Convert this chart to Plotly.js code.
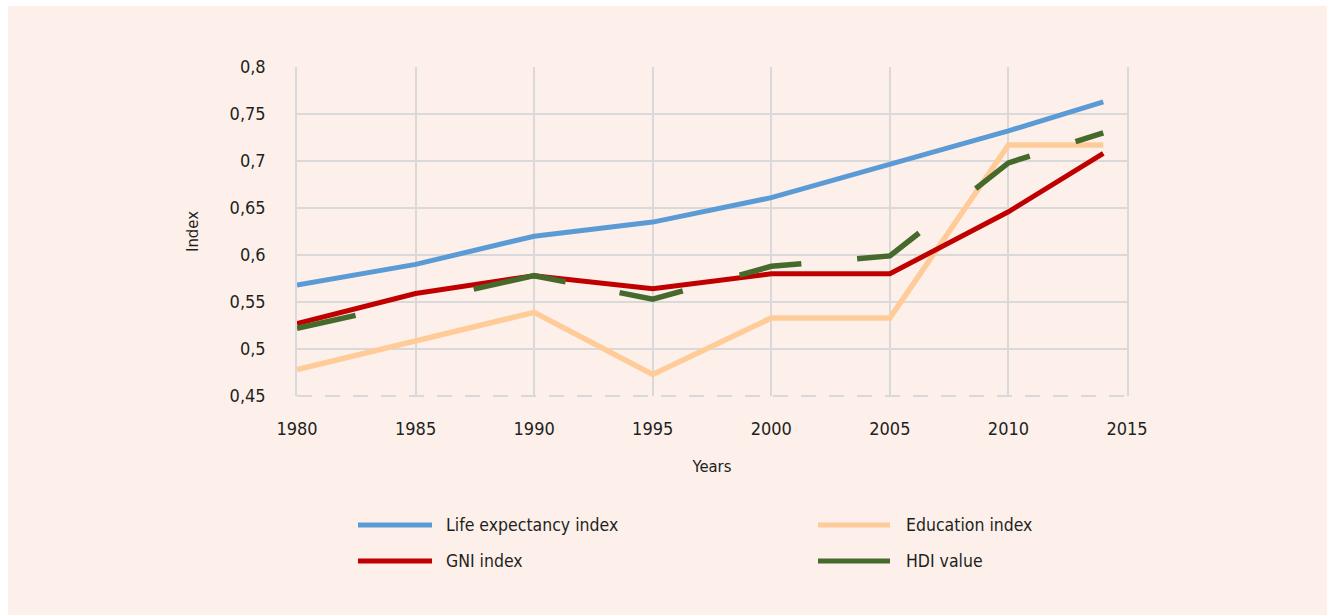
<!DOCTYPE html>
<html>
<head>
<meta charset="utf-8">
<script src="https://cdn.plot.ly/plotly-3.0.1.min.js"></script>
<style>
  html, body { margin: 0; padding: 0; background: #ffffff; width: 1327px; height: 615px; overflow: hidden; }
  #chart { position: absolute; left: 8px; top: 6px; width: 1319px; height: 609px; }
</style>
</head>
<body>
<div id="chart"></div>
<script>
// ---- data ----
const years = [1980, 1985, 1990, 1995, 2000, 2005, 2010, 2014];
const lifeExpectancy = [0.568, 0.590, 0.620, 0.635, 0.661, 0.696, 0.732, 0.763];
const education = [0.478, 0.509, 0.539, 0.473, 0.533, 0.533, 0.717, 0.717];
const gni = [0.527, 0.559, 0.578, 0.564, 0.580, 0.580, 0.646, 0.708];
const hdi = [0.522, 0.550, 0.578, 0.553, 0.588, 0.599, 0.698, 0.730];

const seriesNames = ["Life expectancy index", "Education index", "GNI index", "HDI value"];
const xTickVals = [1980, 1985, 1990, 1995, 2000, 2005, 2010, 2015];
const xTickText = ["1980", "1985", "1990", "1995", "2000", "2005", "2010", "2015"];
const yTickVals = [0.45, 0.5, 0.55, 0.6, 0.65, 0.7, 0.75, 0.8];
const yTickText = ["0,45", "0,5", "0,55", "0,6", "0,65", "0,7", "0,75", "0,8"];

// ---- styles ----
const FONT = "'Liberation Sans Narrow', 'DejaVu Sans Condensed', 'Roboto Condensed', 'Liberation Sans', sans-serif";
const TXT = "#231f20";
const GRID = "#d9d9d9";
const BG = "#fdf0eb";
const colors = {
  life: "#5b9bd5",
  edu: "#ffcc99",
  gni: "#c00000",
  hdi: "#466a2b"
};

const traces = [
  { x: years, y: education, name: seriesNames[1], mode: "lines",
    line: { color: colors.edu, width: 5.5 } },
  { x: years, y: lifeExpectancy, name: seriesNames[0], mode: "lines",
    line: { color: colors.life, width: 5 } },
  { x: years, y: gni, name: seriesNames[2], mode: "lines",
    line: { color: colors.gni, width: 5 } },
  { x: years, y: hdi, name: seriesNames[3], mode: "lines",
    line: { color: colors.hdi, width: 5.5,
      dash: "60px,121px,94px,55px,65px,59px,63px,56px,70px,72px,64px,48px,40px" } }
];

// manual legend (2 x 2 grid) in paper coordinates
const plotL = 297, plotR = 1127, plotT = 67, plotB = 396;
const px = v => (v - plotL) / (plotR - plotL);
const py = v => (plotB - v) / (plotB - plotT);
const legendItems = [
  { name: seriesNames[0], color: colors.life, x0: 358, x1: 432, tx: 444, y: 525 },
  { name: seriesNames[1], color: colors.edu,  x0: 818, x1: 890, tx: 904, y: 525 },
  { name: seriesNames[2], color: colors.gni,  x0: 358, x1: 432, tx: 444, y: 561 },
  { name: seriesNames[3], color: colors.hdi,  x0: 818, x1: 890, tx: 904, y: 561 }
];

const shapes = [
  // cover solid bottom gridline and draw dashed baseline (paper refs: not clipped)
  { type: "line", xref: "paper", yref: "paper", x0: 0.002, x1: 0.998, y0: 0, y1: 0,
    line: { color: BG, width: 3 }, layer: "below" },
  { type: "line", xref: "paper", yref: "paper", x0: 0, x1: 1, y0: 0, y1: 0,
    line: { color: GRID, width: 2, dash: "15px,13px" }, layer: "below" }
];
const annotations = [];
legendItems.forEach(it => {
  shapes.push({ type: "line", xref: "paper", yref: "paper",
    x0: px(it.x0), x1: px(it.x1), y0: py(it.y), y1: py(it.y),
    line: { color: it.color, width: 5 } });
  annotations.push({ xref: "paper", yref: "paper", x: px(it.tx), y: py(it.y),
    xanchor: "left", yanchor: "middle", showarrow: false, text: it.name,
    font: { family: FONT, size: 17.5, color: TXT } });
});

const layout = {
  width: 1319, height: 609,
  paper_bgcolor: BG, plot_bgcolor: BG,
  margin: { l: 289, r: 200, t: 61, b: 219 },
  font: { family: FONT, size: 18, color: TXT },
  showlegend: false,
  xaxis: {
    range: [1980, 2015],
    tickvals: xTickVals, ticktext: xTickText,
    showgrid: true, gridcolor: GRID, gridwidth: 1.5,
    showline: false, zeroline: false, ticks: "",
    ticklabelstandoff: 20,
    tickfont: { family: FONT, size: 18, color: TXT },
    title: { text: "Years", font: { family: FONT, size: 16.5, color: TXT }, standoff: 22 }
  },
  yaxis: {
    range: [0.45, 0.8],
    tickvals: yTickVals, ticktext: yTickText,
    showgrid: true, gridcolor: GRID, gridwidth: 1.5,
    showline: true, mirror: true, linecolor: GRID, linewidth: 1.5,
    zeroline: false, ticks: "",
    ticklabelstandoff: 26,
    tickfont: { family: FONT, size: 18, color: TXT },
    title: { text: "Index", font: { family: FONT, size: 16.5, color: TXT }, standoff: 27 }
  },
  shapes: shapes,
  annotations: annotations
};

Plotly.newPlot("chart", traces, layout, { displayModeBar: false, responsive: false });
</script>
</body>
</html>
